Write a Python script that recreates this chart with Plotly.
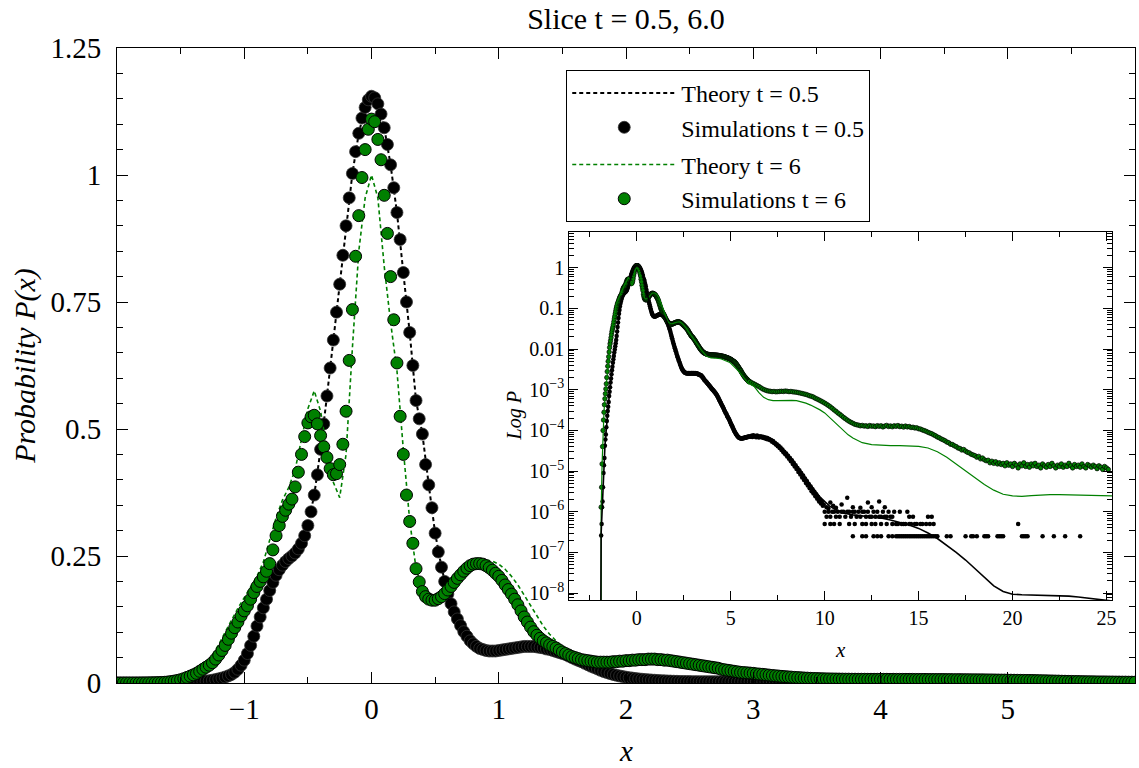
import plotly.graph_objects as go

FONT = "Liberation Serif, Times New Roman, serif"
GREEN = "#008000"

# ---------------- main panel data ----------------
# simulation histograms: bin centres start at SIM_X0 with width SIM_BIN
SIM_X0 = -2.0
SIM_BIN = 0.025
sim_05 = [
    0, 0, 0, 0, 2.6e-7, 5e-7, 1.3e-6, 1.8e-6,
    4e-6, 9e-6, 1.4e-5, 2.1e-5, 4.2e-5, 6e-5, 8e-5, 1.2e-4,
    1.7e-4, 2.3e-4, 3e-4, 3.8e-4, 5e-4, 7e-4, 9e-4, 1.15e-3,
    1.5e-3, 1.9e-3, 2.4e-3, 3e-3, 3.7e-3, 4.6e-3, 5.6e-3, 6.8e-3,
    8.2e-3, 9.8e-3, 0.0117, 0.014, 0.0168, 0.021, 0.027, 0.035,
    0.045, 0.058, 0.074, 0.092, 0.112, 0.13, 0.148, 0.165,
    0.182, 0.198, 0.212, 0.223, 0.232, 0.239, 0.245, 0.25,
    0.256, 0.264, 0.275, 0.29, 0.31, 0.337, 0.37, 0.41,
    0.46, 0.51, 0.565, 0.62, 0.675, 0.73, 0.785, 0.842,
    0.9, 0.955, 1.003, 1.046, 1.082, 1.112, 1.133, 1.148,
    1.155, 1.152, 1.14, 1.12, 1.093, 1.06, 1.02, 0.975,
    0.926, 0.873, 0.808, 0.75, 0.69, 0.625, 0.556, 0.52,
    0.49, 0.43, 0.39, 0.345, 0.295, 0.258, 0.228, 0.2,
    0.175, 0.156, 0.14, 0.126, 0.113, 0.101, 0.092, 0.083,
    0.077, 0.072, 0.068, 0.066, 0.064, 0.063, 0.063, 0.063,
    0.064, 0.065, 0.066, 0.067, 0.068, 0.069, 0.07, 0.071,
    0.072, 0.072, 0.072, 0.072, 0.071, 0.07, 0.069, 0.067,
    0.066, 0.064, 0.062, 0.06, 0.058, 0.056, 0.053, 0.05,
    0.047, 0.0445, 0.042, 0.039, 0.036, 0.033, 0.0305, 0.0278,
    0.025, 0.0225, 0.0205, 0.0185, 0.0168, 0.0152, 0.0138, 0.0126,
    0.0115, 0.0105, 0.0096, 0.0088, 0.0081, 0.0074, 0.0068, 0.0063,
    0.0058, 0.0054, 0.005, 0.0046, 0.0043, 0.004, 0.0037, 0.0035,
    0.0033, 0.0031, 0.003, 0.0029, 0.0028, 0.0027, 0.0027, 0.0026,
    0.0026, 0.0026, 0.0025, 0.0026, 0.0025, 0.0025, 0.0026, 0.0025,
    0.0025, 0.0026, 0.0025, 0.0025, 0.0026, 0.0025, 0.0026, 0.0025,
    0.0025, 0.0026, 0.0025, 0.0025, 0.0026, 0.0025, 0.0025, 0.0025,
    0.0025, 0.0025, 0.0024, 0.0024, 0.0024, 0.0023, 0.0023, 0.0023,
    0.0023, 0.0022, 0.0022, 0.0021, 0.002, 0.002, 0.0019, 0.0018,
    0.00175, 0.0017, 0.00165, 0.0016, 0.00155, 0.0015, 0.00145, 0.0014,
    0.00136, 0.00132, 0.00128, 0.00124, 0.0012, 0.00116, 0.00112, 0.00108,
    0.00105, 0.00102, 0.00099, 0.00096, 0.00093, 0.0009, 0.00087, 0.00084,
    0.00081, 0.00078, 0.00075, 0.00071, 0.00068, 0.00065, 0.00062, 0.00058,
    0.00055, 0.00052, 0.00049, 0.00047, 0.00044, 0.00042, 0.0004, 0.00038,
    0.00036, 0.00034, 0.00032, 0.0003, 0.00029, 0.00027, 0.00026, 0.00025,
    0.00023, 0.00022, 0.00021, 0.0002, 0.00019, 0.00018, 0.00017, 0.00016,
    0.00015, 0.00014, 0.000135, 0.000128, 0.00012, 0.000113, 0.000106, 0.0001,
    9.5e-5, 9e-5, 8.6e-5, 8.2e-5, 7.9e-5, 7.6e-5, 7.3e-5, 7.1e-5,
    6.9e-5, 6.7e-5, 6.6e-5, 6.5e-5, 6.4e-5, 6.4e-5, 6.3e-5, 6.3e-5,
    6.4e-5, 6.3e-5, 6.5e-5, 6.4e-5, 6.6e-5, 6.5e-5, 6.7e-5, 6.6e-5,
    6.8e-5, 6.7e-5, 6.9e-5, 6.8e-5, 7e-5, 6.9e-5, 7.1e-5, 7e-5,
    7.1e-5,
]
sim_6 = [
    0, 0, 0, 0, 1.3e-6, 4e-6, 1.5e-5, 4e-5,
    1e-4, 1.8e-4, 2.8e-4, 4.3e-4, 6e-4, 8e-4, 1.05e-3, 1.4e-3,
    2e-3, 2.8e-3, 3.8e-3, 5e-3, 6.5e-3, 8.5e-3, 0.011, 0.0135,
    0.016, 0.019, 0.023, 0.027, 0.031, 0.035, 0.04, 0.047,
    0.055, 0.064, 0.074, 0.086, 0.098, 0.109, 0.12, 0.132,
    0.142, 0.152, 0.165, 0.178, 0.19, 0.2, 0.209, 0.22,
    0.235, 0.262, 0.29, 0.31, 0.328, 0.34, 0.352, 0.362,
    0.386, 0.415, 0.45, 0.485, 0.512, 0.524, 0.527, 0.51,
    0.487, 0.465, 0.444, 0.422, 0.41, 0.412, 0.43, 0.47,
    0.535, 0.635, 0.735, 0.84, 0.92, 0.995, 1.05, 1.09,
    1.11, 1.105, 1.07, 1.03, 0.96, 0.885, 0.8, 0.715,
    0.63, 0.525, 0.45, 0.37, 0.318, 0.275, 0.225, 0.199,
    0.18, 0.17, 0.165, 0.163, 0.163, 0.166, 0.17, 0.176,
    0.183, 0.19, 0.198, 0.206, 0.213, 0.22, 0.226, 0.231,
    0.234, 0.235, 0.235, 0.234, 0.231, 0.227, 0.222, 0.216,
    0.21, 0.202, 0.193, 0.184, 0.175, 0.165, 0.154, 0.142,
    0.13, 0.12, 0.11, 0.101, 0.094, 0.088, 0.083, 0.079,
    0.075, 0.072, 0.069, 0.065, 0.061, 0.058, 0.055, 0.052,
    0.05, 0.048, 0.046, 0.045, 0.044, 0.043, 0.042, 0.041,
    0.041, 0.041, 0.041, 0.041, 0.042, 0.042, 0.043, 0.043,
    0.044, 0.044, 0.045, 0.045, 0.046, 0.046, 0.046, 0.047,
    0.047, 0.047, 0.046, 0.046, 0.045, 0.045, 0.044, 0.043,
    0.042, 0.041, 0.04, 0.039, 0.038, 0.037, 0.036, 0.035,
    0.034, 0.033, 0.032, 0.031, 0.03, 0.029, 0.027, 0.026,
    0.025, 0.024, 0.023, 0.022, 0.021, 0.0205, 0.02, 0.0195,
    0.019, 0.018, 0.0175, 0.017, 0.0162, 0.0155, 0.0148, 0.0142,
    0.0136, 0.013, 0.0125, 0.012, 0.0115, 0.011, 0.0106, 0.0102,
    0.0098, 0.0095, 0.0092, 0.0089, 0.0087, 0.0085, 0.0083, 0.0081,
    0.008, 0.0079, 0.0078, 0.0077, 0.0076, 0.0075, 0.0075, 0.0074,
    0.0074, 0.0073, 0.0073, 0.0073, 0.0072, 0.0072, 0.0072, 0.0072,
    0.0072, 0.0072, 0.0072, 0.0071, 0.0072, 0.0071, 0.0071, 0.0071,
    0.0071, 0.0071, 0.0071, 0.007, 0.007, 0.007, 0.007, 0.0069,
    0.0069, 0.0069, 0.0068, 0.0068, 0.0068, 0.0067, 0.0067, 0.0066,
    0.0066, 0.0066, 0.0065, 0.0065, 0.0064, 0.0063, 0.0063, 0.0062,
    0.0062, 0.0061, 0.006, 0.006, 0.0059, 0.0058, 0.0057, 0.0057,
    0.0056, 0.0055, 0.0054, 0.0053, 0.0052, 0.0051, 0.005, 0.0049,
    0.0049, 0.0047, 0.0046, 0.0044, 0.0043, 0.0041, 0.004, 0.0038,
    0.0037, 0.0035, 0.0034, 0.0032, 0.0031, 0.003, 0.0029, 0.0027,
    0.0026, 0.0025, 0.0024, 0.0023, 0.0022, 0.0021, 0.0021, 0.002,
    0.0019, 0.0019, 0.0018, 0.0018, 0.0017, 0.0017, 0.0016, 0.0016,
    0.0016,
]

# theory curves: grid starts at TH_X0 with step TH_STEP
TH_X0 = -2.0
TH_STEP = 0.05
theory_05 = [
    0, 1e-12, 3e-7, 1.3e-6, 4e-6, 1.4e-5, 4e-5, 8e-5, 1.7e-4, 3e-4,
    5e-4, 9e-4, 1.5e-3, 2.4e-3, 3.7e-3, 5.6e-3, 8.2e-3, 0.0117, 0.0168, 0.027,
    0.045, 0.074, 0.112, 0.148, 0.182, 0.212, 0.232, 0.245, 0.256, 0.275,
    0.31, 0.37, 0.46, 0.565, 0.675, 0.785, 0.9, 1.003, 1.082, 1.133,
    1.155, 1.14, 1.093, 1.02, 0.926, 0.808, 0.69, 0.556, 0.49, 0.39,
    0.295, 0.228, 0.175, 0.14, 0.113, 0.092, 0.077, 0.068, 0.064, 0.063,
    0.064, 0.066, 0.068, 0.07, 0.072, 0.072, 0.071, 0.069, 0.066, 0.062,
    0.058, 0.053, 0.047, 0.041, 0.035, 0.029, 0.025, 0.0205, 0.0168, 0.0138,
    0.0115, 0.0096, 0.0081, 0.0068, 0.0058, 0.005, 0.0043, 0.0037, 0.0033, 0.003,
    0.0028, 0.0027, 0.0026, 0.0025, 0.0025, 0.0025, 0.0025, 0.0025, 0.0025, 0.0025,
    0.0025, 0.0025, 0.0025, 0.0025, 0.0025, 0.0024, 0.0024, 0.0023, 0.0023, 0.0022,
    0.002, 0.0019, 0.00175, 0.00165, 0.00155, 0.00145, 0.00136, 0.00128, 0.0012, 0.00112,
    0.00105, 0.00099, 0.00093, 0.00087, 0.00081, 0.00075, 0.00068, 0.00062, 0.00055, 0.00049,
    0.00044, 0.0004, 0.00036, 0.00032, 0.00029, 0.00026, 0.00023, 0.00021, 0.00019, 0.00017,
    0.00015, 0.000135, 0.00012, 0.000106, 9.5e-5, 8.6e-5, 7.9e-5, 7.3e-5, 6.9e-5, 6.6e-5,
    6.4e-5, 6.3e-5, 6.3e-5, 6.4e-5, 6.5e-5, 6.6e-5, 6.7e-5, 6.8e-5, 6.9e-5, 7e-5,
    7e-5,
]
theory_6 = [
    0, 0, 1e-6, 1.5e-5, 1e-4, 2.8e-4, 6e-4, 1.1e-3, 2.1e-3, 3.9e-3,
    6.8e-3, 0.0115, 0.018, 0.027, 0.039, 0.055, 0.076, 0.1, 0.125, 0.147,
    0.168, 0.19, 0.21, 0.238, 0.283, 0.325, 0.36, 0.385, 0.42, 0.48,
    0.54, 0.575, 0.535, 0.46, 0.395, 0.365, 0.45, 0.66, 0.85, 0.955,
    1.0, 0.955, 0.82, 0.71, 0.615, 0.46, 0.32, 0.225, 0.186, 0.172,
    0.17, 0.173, 0.183, 0.197, 0.211, 0.224, 0.234, 0.24, 0.242, 0.24,
    0.234, 0.224, 0.21, 0.193, 0.173, 0.152, 0.131, 0.112, 0.096, 0.082,
    0.07, 0.06, 0.053, 0.048, 0.045, 0.043, 0.042, 0.042, 0.042, 0.043,
    0.044, 0.045, 0.046, 0.047, 0.047, 0.047, 0.046, 0.045, 0.043, 0.041,
    0.039, 0.037, 0.034, 0.032, 0.029, 0.027, 0.025, 0.023, 0.021, 0.02,
    0.019, 0.0175, 0.0162, 0.015, 0.0138, 0.0127, 0.0117, 0.0108, 0.0099, 0.0092,
    0.0086, 0.0081, 0.0076, 0.0072, 0.0068, 0.0066, 0.0064, 0.0063, 0.0062, 0.0061,
    0.0061, 0.006, 0.006, 0.006, 0.006, 0.006, 0.0059, 0.0059, 0.0058, 0.0058,
    0.0057, 0.0056, 0.0055, 0.0054, 0.0053, 0.0052, 0.0051, 0.005, 0.0048, 0.0047,
    0.0045, 0.0043, 0.0041, 0.0039, 0.0037, 0.0035, 0.0033, 0.0031, 0.0029, 0.0027,
    0.0026, 0.0024, 0.0022, 0.0021, 0.0019, 0.0018, 0.0017, 0.0016, 0.0015, 0.0014,
    0.0014,
]

# ---------------- inset-only data (x > 6) ----------------
tail_sim05_x = [
    6.05, 6.1, 6.15, 6.2, 6.25, 6.3, 6.35, 6.4, 6.45, 6.5,
    6.55, 6.6, 6.65, 6.7, 6.75, 6.8, 6.85, 6.9, 6.95, 7.0,
    7.05, 7.1, 7.15, 7.2, 7.25, 7.3, 7.35, 7.4, 7.45, 7.5,
    7.55, 7.6, 7.65, 7.7, 7.75, 7.8, 7.85, 7.9, 7.95, 8.0,
    8.05, 8.1, 8.15, 8.2, 8.25, 8.3, 8.35, 8.4, 8.45, 8.5,
    8.55, 8.6, 8.65, 8.7, 8.75, 8.8, 8.85, 8.9, 8.95, 9.0,
    9.05, 9.1, 9.15, 9.2, 9.25, 9.3, 9.35, 9.4, 9.45, 9.5,
    9.55, 9.6, 9.65, 9.7, 9.75, 9.8, 9.85, 9.9, 9.95,
]
tail_sim05_p = [
    7.0e-5, 7.4e-5, 6.9e-5, 7.6e-5, 7.1e-5, 7.3e-5, 6.8e-5, 7.5e-5, 7.0e-5, 6.7e-5,
    7.2e-5, 6.9e-5, 7.1e-5, 6.6e-5, 6.9e-5, 6.4e-5, 6.7e-5, 6.2e-5, 6.5e-5, 6.0e-5,
    6.2e-5, 5.7e-5, 5.8e-5, 5.3e-5, 5.5e-5, 4.9e-5, 5.0e-5, 4.5e-5, 4.6e-5, 4.1e-5,
    4.2e-5, 3.7e-5, 3.8e-5, 3.3e-5, 3.4e-5, 2.9e-5, 3.0e-5, 2.6e-5, 2.7e-5, 2.3e-5,
    2.4e-5, 2.0e-5, 2.1e-5, 1.75e-5, 1.85e-5, 1.5e-5, 1.6e-5, 1.3e-5, 1.4e-5, 1.12e-5,
    1.2e-5, 9.5e-6, 1.05e-5, 8.2e-6, 9e-6, 7e-6, 7.8e-6, 6e-6, 6.6e-6, 5.1e-6,
    5.7e-6, 4.4e-6, 4.8e-6, 3.8e-6, 4.2e-6, 3.2e-6, 3.6e-6, 2.8e-6, 3.1e-6, 2.4e-6,
    2.7e-6, 2.1e-6, 2.3e-6, 1.8e-6, 2.0e-6, 1.6e-6, 1.75e-6, 1.4e-6, 1.5e-6,
]
# sparse counts far in the tail (one to four walkers per bin)
count_levels = [2.5e-7, 5e-7, 7.5e-7, 1e-6]
count_x = [
    [11.5, 12.0, 12.2, 12.6, 12.8, 13.0, 13.4, 13.6, 13.8, 13.9, 14.0, 14.1, 14.2,
     14.3, 14.4, 14.5, 14.6, 14.7, 14.8, 14.9, 15.0, 15.1, 15.2, 15.3, 15.4, 15.5,
     15.6, 15.7, 15.8, 15.9, 16.0, 16.5, 16.7, 17.5, 17.8, 17.9, 18.1, 18.5, 18.6,
     18.7, 19.2, 19.3, 19.4, 19.5, 20.5, 20.6, 20.7, 20.8, 21.6, 22.2, 22.8, 23.6],
    [10.0, 10.3, 10.5, 10.8, 11.3, 11.6, 12.0, 12.2, 12.5, 12.7, 13.0, 13.3, 13.6,
     13.8, 13.9, 14.1, 14.2, 14.3, 14.5, 14.6, 14.8, 14.9, 15.1, 15.2, 15.4, 15.6,
     15.8, 20.3],
    [10.1, 10.3, 10.6, 10.8, 11.1, 11.4, 11.7, 11.9, 12.2, 12.4, 12.5, 12.7, 12.9,
     13.0, 13.2, 13.3, 13.5, 13.6, 14.5, 14.7, 15.5, 15.7],
    [10.0, 10.2, 10.4, 10.5, 10.7, 10.9, 11.0, 11.2, 11.3, 11.5, 11.6, 11.8, 12.0,
     12.1, 12.3, 12.6, 12.8, 13.1, 13.4, 13.7, 14.0, 14.4],
]
high_x = [10.1, 10.2, 10.3, 10.45, 10.6, 10.9, 11.2, 11.5, 11.9, 12.3, 12.5, 12.9, 13.2]
high_p = [1.3e-6, 1.2e-6, 1.7e-6, 1.4e-6, 1.25e-6, 1.5e-6, 2.2e-6, 1.3e-6, 1.25e-6,
          1.7e-6, 1.3e-6, 1.8e-6, 1.3e-6]

TAIL6_X0 = 6.1
TAIL6_STEP = 0.1
tail_sim6_p = [
    1.5e-3, 1.42e-3, 1.35e-3, 1.27e-3, 1.2e-3, 1.12e-3, 1.05e-3, 1.0e-3, 9.6e-4, 9.3e-4,
    9.2e-4, 9.0e-4, 9.1e-4, 8.9e-4, 9.0e-4, 9.1e-4, 9.2e-4, 9.1e-4, 9.3e-4, 9.2e-4,
    9.0e-4, 9.1e-4, 8.9e-4, 8.8e-4, 8.7e-4, 8.5e-4, 8.3e-4, 8.1e-4, 7.9e-4, 7.7e-4,
    7.4e-4, 7.1e-4, 6.9e-4, 6.6e-4, 6.2e-4, 5.9e-4, 5.6e-4, 5.3e-4, 5.0e-4, 4.7e-4,
    4.4e-4, 4.1e-4, 3.8e-4, 3.5e-4, 3.2e-4, 2.95e-4, 2.7e-4, 2.5e-4, 2.3e-4, 2.1e-4,
    1.95e-4, 1.8e-4, 1.68e-4, 1.58e-4, 1.5e-4, 1.42e-4, 1.38e-4, 1.35e-4, 1.3e-4, 1.33e-4,
    1.28e-4, 1.3e-4, 1.25e-4, 1.32e-4, 1.27e-4, 1.29e-4, 1.24e-4, 1.31e-4, 1.26e-4, 1.3e-4,
    1.22e-4, 1.28e-4, 1.33e-4, 1.25e-4, 1.29e-4, 1.23e-4, 1.3e-4, 1.26e-4, 1.32e-4, 1.24e-4,
    1.27e-4, 1.21e-4, 1.28e-4, 1.22e-4, 1.25e-4, 1.18e-4, 1.2e-4, 1.15e-4, 1.16e-4, 1.1e-4,
    1.08e-4, 1.03e-4, 9.9e-5, 9.5e-5, 9.0e-5, 8.6e-5, 8.3e-5, 7.8e-5, 7.4e-5, 6.9e-5,
    6.6e-5, 6.2e-5, 5.9e-5, 5.6e-5, 5.2e-5, 5.0e-5, 4.6e-5, 4.5e-5, 4.2e-5, 4.0e-5,
    3.7e-5, 3.6e-5, 3.3e-5, 3.4e-5, 3.1e-5, 2.9e-5, 2.8e-5, 2.6e-5, 2.5e-5, 2.4e-5,
    2.2e-5, 2.3e-5, 2.0e-5, 2.1e-5, 1.9e-5, 1.8e-5, 1.85e-5, 1.6e-5, 1.75e-5, 1.55e-5,
    1.7e-5, 1.5e-5, 1.6e-5, 1.45e-5, 1.55e-5, 1.35e-5, 1.6e-5, 1.4e-5, 1.5e-5, 1.3e-5,
    1.55e-5, 1.4e-5, 1.2e-5, 1.5e-5, 1.35e-5, 1.6e-5, 1.3e-5, 1.45e-5, 1.25e-5, 1.5e-5,
    1.35e-5, 1.55e-5, 1.3e-5, 1.4e-5, 1.2e-5, 1.5e-5, 1.35e-5, 1.25e-5, 1.45e-5, 1.3e-5,
    1.55e-5, 1.35e-5, 1.2e-5, 1.4e-5, 1.3e-5, 1.5e-5, 1.25e-5, 1.4e-5, 1.3e-5, 1.55e-5,
    1.35e-5, 1.2e-5, 1.45e-5, 1.3e-5, 1.4e-5, 1.25e-5, 1.5e-5, 1.3e-5, 1.2e-5, 1.45e-5,
    1.35e-5, 1.25e-5, 1.4e-5, 1.3e-5, 1.15e-5, 1.35e-5, 1.25e-5, 1.1e-5, 1.3e-5, 1.2e-5,
    1.1e-5,
]

tail_th05_x = [6.25, 6.5, 6.75, 7.0, 7.25, 7.5, 7.75, 8.0, 8.25, 8.5, 8.75, 9.0, 9.25,
               9.5, 9.75, 10.0, 10.25, 10.5, 10.75, 11.0, 11.5, 12.0, 12.5, 13.0, 13.5,
               14.0, 14.5, 15.0, 15.5, 16.0, 16.5, 17.0, 17.5, 18.0, 18.5, 19.0, 19.5,
               20.0, 20.5, 21.0, 21.5, 22.0, 22.5, 23.0, 23.5, 24.0, 24.5, 25.0, 25.3]
tail_th05_p = [7e-5, 7e-5, 6.8e-5, 6.3e-5, 5.5e-5, 4.6e-5, 3.6e-5, 2.7e-5, 2e-5, 1.4e-5,
               9.5e-6, 6.5e-6, 4.5e-6, 3.2e-6, 2.3e-6, 1.75e-6, 1.4e-6, 1.18e-6, 1.03e-6,
               9.3e-7, 8.4e-7, 7.9e-7, 7.5e-7, 7e-7, 6.3e-7, 5.5e-7, 4.7e-7, 3.9e-7, 3e-7,
               2.2e-7, 1.5e-7, 1e-7, 6.5e-8, 4e-8, 2.4e-8, 1.5e-8, 1.1e-8, 9.4e-9, 9.1e-9,
               9e-9, 9e-9, 8.9e-9, 8.7e-9, 8.4e-9, 8e-9, 7.6e-9, 7.1e-9, 6.7e-9, 6.4e-9]
tail_th6_x = [6.25, 6.5, 6.75, 7.0, 7.25, 7.5, 7.75, 8.0, 8.25, 8.5, 8.75, 9.0, 9.25,
              9.5, 9.75, 10.0, 10.25, 10.5, 10.75, 11.0, 11.25, 11.5, 11.75, 12.0, 12.5,
              13.0, 13.5, 14.0, 14.5, 15.0, 15.5, 16.0, 16.5, 17.0, 17.5, 18.0, 18.5,
              19.0, 19.5, 20.0, 20.5, 21.0, 21.5, 22.0, 22.5, 23.0, 23.5, 24.0, 24.5,
              25.0, 25.3]
tail_th6_p = [1.2e-3, 8.5e-4, 6.5e-4, 5.7e-4, 5.4e-4, 5.4e-4, 5.5e-4, 5.5e-4, 5.5e-4,
              5.4e-4, 5.1e-4, 4.7e-4, 4.2e-4, 3.7e-4, 3.2e-4, 2.7e-4, 2.1e-4, 1.65e-4,
              1.25e-4, 9.5e-5, 7.8e-5, 6.5e-5, 5.6e-5, 5e-5, 4.5e-5, 4.3e-5, 4.25e-5,
              4.25e-5, 4.2e-5, 4.05e-5, 3.7e-5, 3e-5, 2.2e-5, 1.5e-5, 1.05e-5, 7e-6,
              4.7e-6, 3.4e-6, 2.7e-6, 2.45e-6, 2.4e-6, 2.5e-6, 2.6e-6, 2.65e-6, 2.65e-6,
              2.6e-6, 2.55e-6, 2.5e-6, 2.45e-6, 2.45e-6, 2.45e-6]

main_xticks = [-1, 0, 1, 2, 3, 4, 5]
main_yticks = [0, 0.25, 0.5, 0.75, 1, 1.25]
main_yticktext = ["0", "0.25", "0.5", "0.75", "1", "1.25"]
inset_xticks = [0, 5, 10, 15, 20, 25]
inset_yticks = [1, 0.1, 0.01, 1e-3, 1e-4, 1e-5, 1e-6, 1e-7, 1e-8]
inset_yticktext = ["1", "0.1", "0.01", "10<sup>\u22123</sup>", "10<sup>\u22124</sup>",
                   "10<sup>\u22125</sup>", "10<sup>\u22126</sup>", "10<sup>\u22127</sup>",
                   "10<sup>\u22128</sup>"]

# ---------------- derived coordinates ----------------
x_sim = [round(SIM_X0 + SIM_BIN * i, 4) for i in range(len(sim_05))]
x_th = [round(TH_X0 + TH_STEP * i, 4) for i in range(len(theory_05))]
x_tail6 = [round(TAIL6_X0 + TAIL6_STEP * i, 4) for i in range(len(tail_sim6_p))]

noise_x, noise_p = [], []
for lvl, xs in zip(count_levels, count_x):
    noise_x += xs
    noise_p += [lvl] * len(xs)

in05_x = x_sim + tail_sim05_x + noise_x + high_x
in05_p = sim_05 + tail_sim05_p + noise_p + high_p
in6_x = x_sim + x_tail6
in6_p = sim_6 + tail_sim6_p
inth05_x = x_th + tail_th05_x
inth05_p = theory_05 + tail_th05_p
inth6_x = x_th + tail_th6_x
inth6_p = theory_6 + tail_th6_p

fig = go.Figure()

# main panel
fig.add_trace(go.Scatter(x=x_th, y=theory_05, mode="lines", name="Theory t = 0.5",
                         legendgroup="a",
                         line=dict(color="black", width=2, dash="4px,3px")))
fig.add_trace(go.Scatter(x=x_sim, y=sim_05, mode="markers", name="Simulations t = 0.5",
                         legendgroup="a",
                         marker=dict(size=12, color="black",
                                     line=dict(color="#333333", width=0.8))))
fig.add_trace(go.Scatter(x=x_th, y=theory_6, mode="lines", name="Theory t = 6",
                         legendgroup="b",
                         line=dict(color=GREEN, width=1.6, dash="4px,3px")))
fig.add_trace(go.Scatter(x=x_sim, y=sim_6, mode="markers", name="Simulations t = 6",
                         legendgroup="b",
                         marker=dict(size=12, color=GREEN,
                                     line=dict(color="black", width=1))))

# inset
fig.add_trace(go.Scatter(x=in05_x, y=in05_p, mode="markers", showlegend=False,
                         xaxis="x2", yaxis="y2",
                         marker=dict(size=4.5, color="black")))
fig.add_trace(go.Scatter(x=in6_x, y=in6_p, mode="markers", showlegend=False,
                         xaxis="x2", yaxis="y2",
                         marker=dict(size=4.5, color=GREEN,
                                     line=dict(color="black", width=0.7))))
fig.add_trace(go.Scatter(x=inth6_x, y=inth6_p, mode="lines", showlegend=False,
                         xaxis="x2", yaxis="y2",
                         line=dict(color=GREEN, width=1.2)))
fig.add_trace(go.Scatter(x=inth05_x, y=inth05_p, mode="lines", showlegend=False,
                         xaxis="x2", yaxis="y2",
                         line=dict(color="black", width=1.6)))

axis_common = dict(showline=True, linecolor="black", linewidth=1, mirror="ticks",
                   ticks="inside", tickcolor="black", showgrid=False, zeroline=False)

L, R, T, B = 117, 0, 48, 85
W, H = 1139, 768
pw, ph = W - L - R, H - T - B

def px_x(p):
    return (p - L) / pw

def px_y(p):
    return (H - B - p) / ph

fig.update_layout(
    width=W, height=H,
    margin=dict(l=L, r=R, t=T, b=B),
    paper_bgcolor="white", plot_bgcolor="white",
    font=dict(family=FONT, color="black"),
    hovermode=False,
    title=dict(text="Slice t = 0.5, 6.0", x=0.5, xref="paper", xanchor="center",
               y=1 - 18 / H, yref="container", yanchor="middle",
               font=dict(family=FONT, size=30, color="black")),
    xaxis=dict(domain=[0, 1], range=[-2, 6], anchor="y", tickmode="array",
               tickvals=main_xticks, ticklen=11, tickwidth=1,
               tickfont=dict(family=FONT, size=29),
               minor=dict(dtick=0.5, tick0=0, ticks="inside", ticklen=6,
                          tickcolor="black", showgrid=False),
               **axis_common),
    yaxis=dict(domain=[0, 1], range=[0, 1.25], anchor="x", tickmode="array",
               tickvals=main_yticks, ticktext=main_yticktext, ticklen=11,
               tickfont=dict(family=FONT, size=29), ticklabelstandoff=9,
               minor=dict(dtick=0.05, tick0=0, ticks="inside", ticklen=6,
                          tickcolor="black", showgrid=False),
               **axis_common),
    xaxis2=dict(domain=[px_x(571), px_x(1116)], range=[-3.6, 25.3], anchor="y2",
                tickmode="array", tickvals=inset_xticks, ticklen=9,
                tickfont=dict(family=FONT, size=20),
                minor=dict(dtick=2.5, tick0=0, ticks="inside", ticklen=5,
                           tickcolor="black", showgrid=False),
                **axis_common),
    yaxis2=dict(domain=[px_y(600), px_y(232)], type="log", range=[-8.17, 0.88],
                anchor="x2", tickmode="array", tickvals=inset_yticks,
                ticktext=inset_yticktext, ticklen=9,
                tickfont=dict(family=FONT, size=20),
                minor=dict(dtick="D1", ticks="inside", ticklen=5,
                           tickcolor="black", showgrid=False),
                **axis_common),
    legend=dict(x=px_x(568), y=px_y(70), xanchor="left", yanchor="top",
                bgcolor="white", bordercolor="black", borderwidth=1,
                font=dict(family=FONT, size=24), traceorder="grouped",
                tracegroupgap=3, itemwidth=104),
    annotations=[
        dict(text="<i>Probability P(x)</i>", x=px_x(24), y=0.5, xref="paper",
             yref="paper", textangle=-90, showarrow=False, xanchor="center",
             yanchor="middle", font=dict(family=FONT, size=30)),
        dict(text="<i>x</i>", x=0.5, y=px_y(751), xref="paper", yref="paper",
             showarrow=False, xanchor="center", yanchor="middle",
             font=dict(family=FONT, size=29)),
        dict(text="<i>x</i>", x=px_x(843), y=px_y(650), xref="paper", yref="paper",
             showarrow=False, xanchor="center", yanchor="middle",
             font=dict(family=FONT, size=21)),
        dict(text="<i>Log P</i>", x=px_x(516), y=px_y(416), xref="paper",
             yref="paper", textangle=-90, showarrow=False, xanchor="center",
             yanchor="middle", font=dict(family=FONT, size=20)),
    ],
)

fig.write_html("out.html", config={"displayModeBar": False},
               post_script="document.body.style.margin='0';document.body.style.overflow='hidden';")
